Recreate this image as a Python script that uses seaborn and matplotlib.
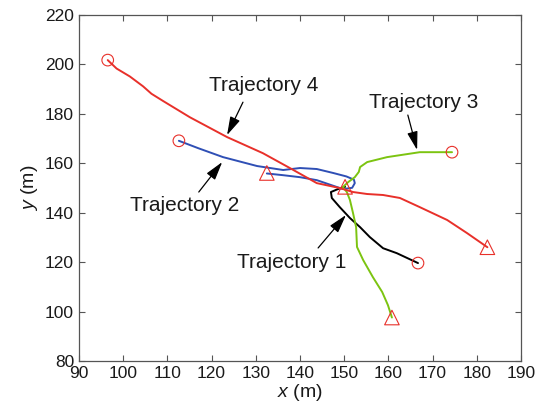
import numpy as np
import pandas as pd
import matplotlib
matplotlib.use("Agg")
import matplotlib.pyplot as plt
import seaborn as sns

# 轨迹数据
t1_x = [166.7, 161.9, 158.8, 155.8, 153.6, 151.3, 149.0, 147.2, 147.0, 148.6, 150.2]
t1_y = [119.6, 123.6, 125.6, 130.1, 134.1, 137.8, 142.2, 145.9, 148.3, 149.5, 150.4]

t2_x = [112.6, 117.0, 122.6, 130.3, 136.2, 140.0, 143.8, 147.5, 150.5, 152.2, 152.4, 151.8,
        149.7, 143.8, 140.0, 136.2, 132.5]
t2_y = [169.0, 166.0, 162.4, 158.8, 157.2, 158.0, 157.6, 156.0, 154.6, 153.3, 151.9, 150.0,
        149.5, 153.1, 154.3, 155.1, 155.8]

t3_x = [174.4, 167.1, 159.7, 155.2, 153.6, 153.3, 152.4, 150.9, 149.7, 150.6, 151.3,
        152.0, 152.7, 152.9, 154.3, 156.5, 158.6, 159.9, 160.8]
t3_y = [164.4, 164.4, 162.4, 160.4, 158.4, 156.4, 154.3, 152.3, 150.3, 148.3, 145.1,
        139.8, 134.1, 126.1, 120.8, 113.9, 107.9, 102.6, 97.6]

t4_x = [96.5, 98.5, 101.5, 104.5, 106.4, 109.1, 115.1, 123.5, 131.6, 137.7, 143.8, 149.0,
        152.0, 155.2, 158.8, 162.6, 167.1, 173.3, 177.8, 182.4]
t4_y = [201.6, 198.2, 195.0, 191.0, 188.0, 185.0, 178.5, 170.5, 164.0, 158.0, 151.9, 149.9,
        148.3, 147.5, 147.1, 145.9, 142.2, 137.0, 131.7, 126.0]

# 起点 (圆圈) 和终点 (三角形)
start_x = [166.7, 112.6, 174.4, 96.5]
start_y = [119.6, 169.0, 164.4, 201.6]
end_x = [150.2, 132.5, 160.8, 182.4]
end_y = [150.4, 156.0, 97.6, 126.0]

# 标注: 文字位置, 箭头起点, 箭头终点
labels = ['Trajectory 1', 'Trajectory 2', 'Trajectory 3', 'Trajectory 4']
text_x = [138.2, 113.9, 168.1, 131.9]
text_y = [120.0, 143.0, 184.6, 191.5]
tail_x = [144.1, 117.1, 164.4, 127.1]
tail_y = [125.7, 148.3, 179.4, 184.6]
tip_x = [150.4, 122.4, 166.5, 123.5]
tip_y = [139.0, 160.4, 165.3, 171.3]

colors = ['black', '#2f4fb5', '#7cc411', '#e8302a']

sns.set_style("ticks")
plt.rcParams['font.family'] = ['Liberation Sans', 'DejaVu Sans']
plt.rcParams['mathtext.fontset'] = 'custom'
plt.rcParams['mathtext.it'] = 'Liberation Sans:italic'
plt.rcParams['mathtext.rm'] = 'Liberation Sans'

fig = plt.figure(figsize=(5.41, 4.16), dpi=100)
ax = fig.add_axes([0.146, 0.132, 0.817, 0.833])

trajs = [(t1_x, t1_y), (t2_x, t2_y), (t3_x, t3_y), (t4_x, t4_y)]
for (xs, ys), c in zip(trajs, colors):
    df = pd.DataFrame({'x': xs, 'y': ys})
    sns.lineplot(data=df, x='x', y='y', sort=False, estimator=None,
                 color=c, linewidth=1.4, ax=ax)

sns.scatterplot(x=start_x, y=start_y, marker='o', s=70, facecolor='none',
                edgecolor='#e8302a', linewidth=0.8, ax=ax, zorder=5)
sns.scatterplot(x=end_x, y=end_y, marker='^', s=110, facecolor='none',
                edgecolor='#e8302a', linewidth=0.8, ax=ax, zorder=5)

for i in range(4):
    ax.annotate('', xy=(tip_x[i], tip_y[i]), xytext=(tail_x[i], tail_y[i]),
                arrowprops=dict(arrowstyle='-|>,head_length=0.7,head_width=0.2',
                                color='black', lw=0.9,
                                mutation_scale=16, shrinkA=0, shrinkB=0))
    ax.text(text_x[i], text_y[i], labels[i], fontsize=15, ha='center', va='center',
            color='#1a1a1a')

ax.set_xlim(90, 190)
ax.set_ylim(80, 220)
ax.set_xticks(np.arange(90, 191, 10))
ax.set_yticks(np.arange(80, 221, 20))
ax.tick_params(direction='in', top=True, right=True, labelsize=12.5,
               color='#555555', labelcolor='#1a1a1a', length=4, width=0.8)
for sp in ax.spines.values():
    sp.set_visible(True)
    sp.set_color('#555555')
    sp.set_linewidth(0.9)

ax.set_xlabel(r'$x$ (m)', fontsize=14, color='#1a1a1a', labelpad=1)
ax.set_ylabel(r'$y$ (m)', fontsize=14, color='#1a1a1a', labelpad=4)

plt.savefig('out.png', dpi=100)
